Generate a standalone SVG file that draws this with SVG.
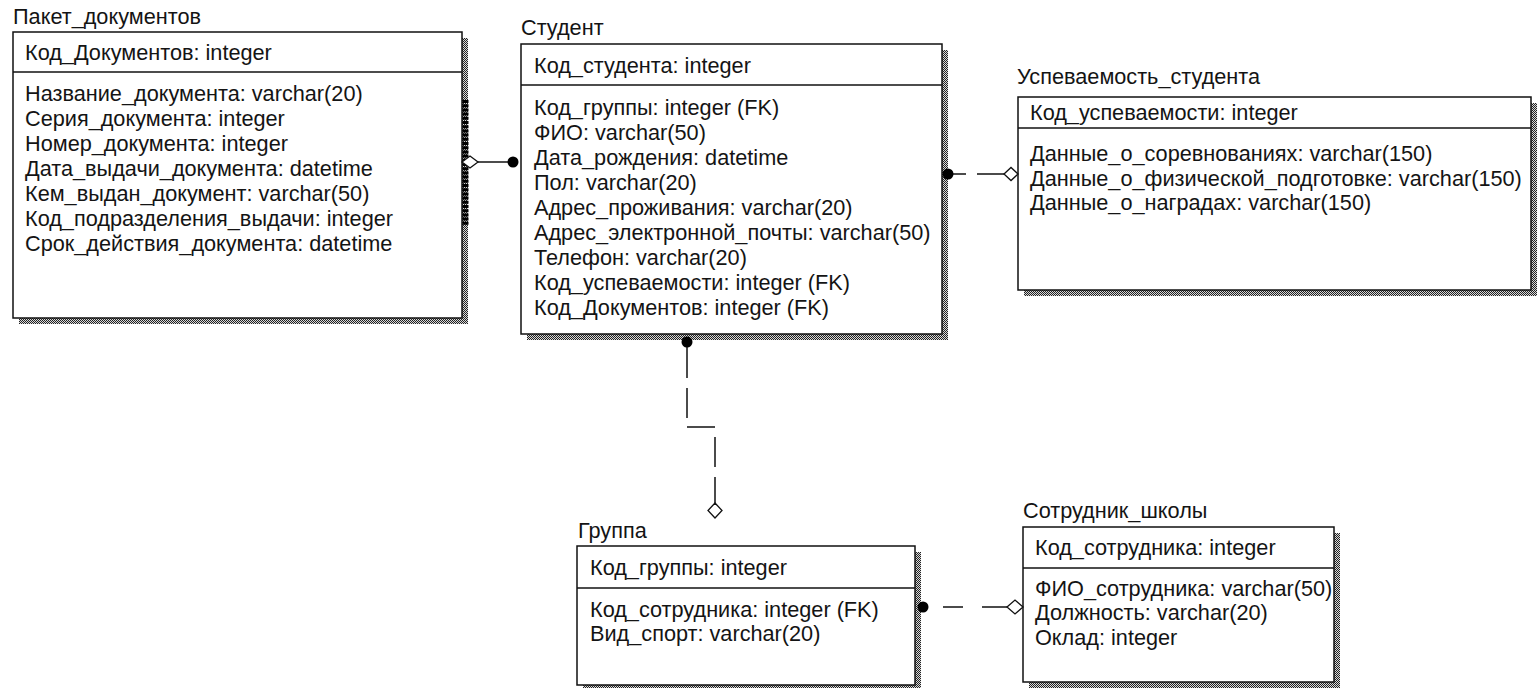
<svg xmlns="http://www.w3.org/2000/svg" width="1537" height="688" viewBox="0 0 1537 688">
<defs>
<pattern id="hatch" width="2" height="2" patternUnits="userSpaceOnUse">
<rect width="2" height="2" fill="#d8d8d8"/>
<rect width="1" height="1" fill="#222"/>
<rect x="1" y="1" width="1" height="1" fill="#222"/>
</pattern>
<style>
text{font-family:"Liberation Sans",Arial,sans-serif;font-size:21.7px;fill:#141414}
.box{fill:#fff;stroke:#111;stroke-width:1.5}
.sep{stroke:#111;stroke-width:1.5}
.sh{fill:url(#hatch)}
.ln{fill:none;stroke:#111;stroke-width:1.5}
.dot{fill:#000}
.dia{fill:#fff;stroke:#111;stroke-width:1.3}
</style>
</defs>
<rect width="1537" height="688" fill="#fff"/>

<g id="paket">
<rect class="sh" x="462" y="38" width="6" height="286"/>
<rect class="sh" x="19" y="318" width="449" height="6"/>
<rect class="box" x="13" y="32" width="449" height="286"/>
<line class="sep" x1="13" y1="72" x2="462" y2="72"/>
<line x1="465.5" y1="100" x2="465.5" y2="226" stroke="#000" stroke-width="6" stroke-dasharray="3 1.2"/>
<text x="13" y="24">Пакет_документов</text>
<text x="25" y="60">Код_Документов: integer</text>
<text x="25" y="101">Название_документа: varchar(20)</text>
<text x="25" y="126">Серия_документа: integer</text>
<text x="25" y="151">Номер_документа: integer</text>
<text x="25" y="176">Дата_выдачи_документа: datetime</text>
<text x="25" y="201">Кем_выдан_документ: varchar(50)</text>
<text x="25" y="226">Код_подразделения_выдачи: integer</text>
<text x="25" y="251">Срок_действия_документа: datetime</text>
</g>

<g id="student">
<rect class="sh" x="942" y="50" width="6" height="290"/>
<rect class="sh" x="527" y="334" width="421" height="6"/>
<rect class="box" x="521" y="44" width="421" height="290"/>
<line class="sep" x1="521" y1="85" x2="942" y2="85"/>
<text x="521" y="35">Студент</text>
<text x="534" y="73">Код_студента: integer</text>
<text x="534" y="115">Код_группы: integer (FK)</text>
<text x="534" y="140">ФИО: varchar(50)</text>
<text x="534" y="165">Дата_рождения: datetime</text>
<text x="534" y="190">Пол: varchar(20)</text>
<text x="534" y="215">Адрес_проживания: varchar(20)</text>
<text x="534" y="240">Адрес_электронной_почты: varchar(50)</text>
<text x="534" y="265">Телефон: varchar(20)</text>
<text x="534" y="290">Код_успеваемости: integer (FK)</text>
<text x="534" y="315">Код_Документов: integer (FK)</text>
</g>

<g id="uspevaemost">
<rect class="sh" x="1531" y="103" width="6" height="193"/>
<rect class="sh" x="1024" y="290" width="513" height="6"/>
<rect class="box" x="1018" y="97" width="513" height="193"/>
<line class="sep" x1="1018" y1="128" x2="1531" y2="128"/>
<text x="1017" y="84">Успеваемость_студента</text>
<text x="1030" y="120">Код_успеваемости: integer</text>
<text x="1030" y="161">Данные_о_соревнованиях: varchar(150)</text>
<text x="1030" y="186">Данные_о_физической_подготовке: varchar(150)</text>
<text x="1030" y="210">Данные_о_наградах: varchar(150)</text>
</g>

<g id="gruppa">
<rect class="sh" x="915" y="552" width="6" height="139"/>
<rect class="sh" x="583" y="685" width="338" height="6"/>
<rect class="box" x="577" y="546" width="338" height="139"/>
<line class="sep" x1="577" y1="588" x2="915" y2="588"/>
<text x="578" y="538">Группа</text>
<text x="590" y="575">Код_группы: integer</text>
<text x="590" y="617">Код_сотрудника: integer (FK)</text>
<text x="590" y="641">Вид_спорт: varchar(20)</text>
</g>

<g id="sotrudnik">
<rect class="sh" x="1334" y="533" width="6" height="155"/>
<rect class="sh" x="1029" y="682" width="311" height="6"/>
<rect class="box" x="1023" y="527" width="311" height="155"/>
<line class="sep" x1="1023" y1="568" x2="1334" y2="568"/>
<text x="1023" y="518">Сотрудник_школы</text>
<text x="1035" y="555">Код_сотрудника: integer</text>
<text x="1035" y="596">ФИО_сотрудника: varchar(50)</text>
<text x="1035" y="620">Должность: varchar(20)</text>
<text x="1035" y="645">Оклад: integer</text>
</g>

<g id="connectors">
<path class="ln" d="M477 162 H509"/>
<path class="dia" d="M462 162 L470 156 L478 162 L470 168 Z"/>
<circle class="dot" cx="513" cy="162" r="5.5"/>

<path class="ln" d="M953 174 H966 M977 174 H1005"/>
<circle class="dot" cx="948" cy="174" r="5.5"/>
<path class="dia" d="M1004 174 L1011 167.5 L1018 174 L1011 180.5 Z"/>

<path class="ln" d="M687 347 V378 M687 388 V418 M687 427 H715 M715 437 V467 M715 477 V504"/>
<circle class="dot" cx="687" cy="342" r="5.5"/>
<path class="dia" d="M715 503 L722 510.5 L715 518 L708 510.5 Z"/>

<path class="ln" d="M943 607 H963 M982 607 H1008"/>
<circle class="dot" cx="923" cy="607" r="5.5"/>
<path class="dia" d="M1007 607 L1015 600 L1023 607 L1015 614 Z"/>
</g>
</svg>
